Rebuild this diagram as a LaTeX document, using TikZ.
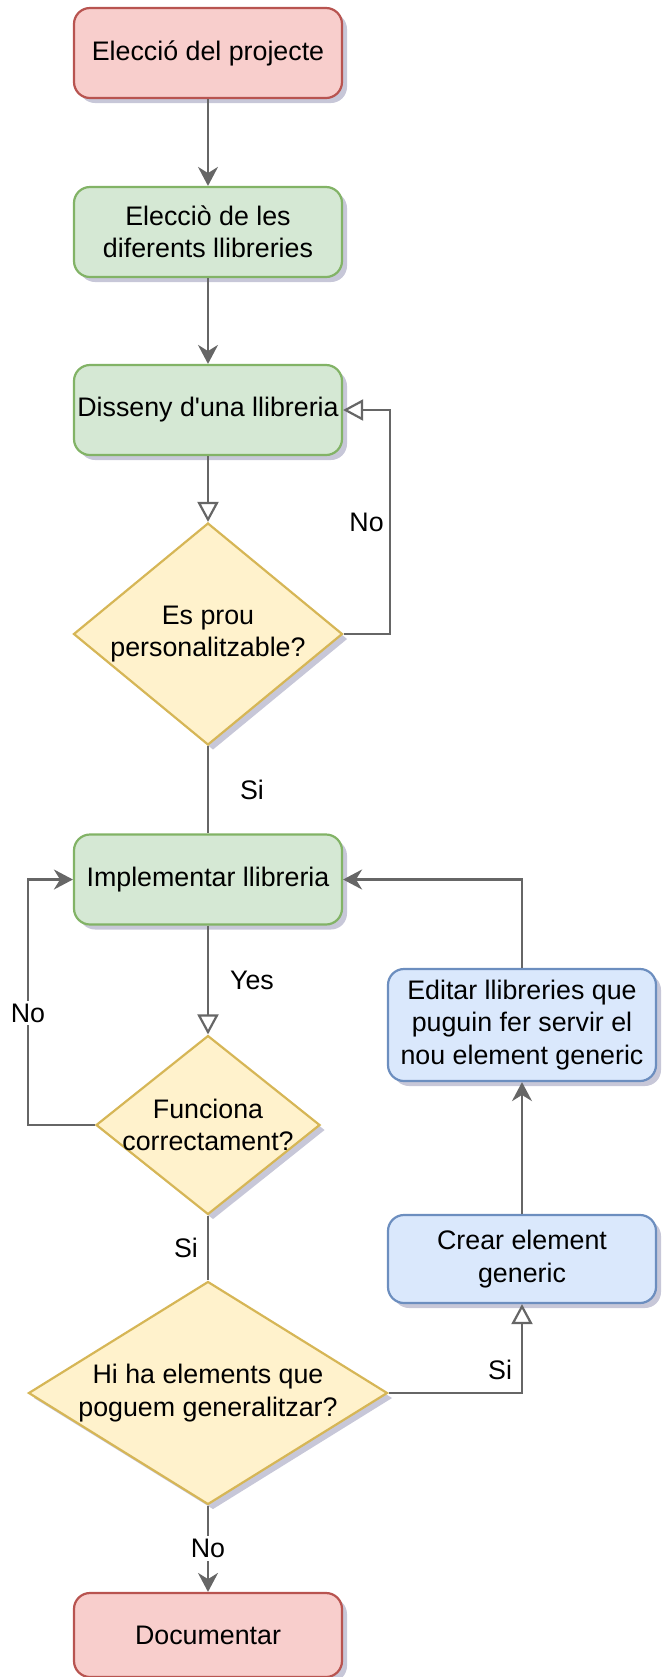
\documentclass[tikz,border=0pt]{standalone}
\usepackage{fontspec}
\setmainfont{Liberation Sans}[Ligatures=TeXOff]
\usetikzlibrary{shapes.geometric,arrows.meta,shadows}
\definecolor{redfill}{HTML}{F8CECC}
\definecolor{redline}{HTML}{B85450}
\definecolor{greenfill}{HTML}{D5E8D4}
\definecolor{greenline}{HTML}{82B366}
\definecolor{yellowfill}{HTML}{FFF2CC}
\definecolor{yellowline}{HTML}{D6B656}
\definecolor{bluefill}{HTML}{DAE8FC}
\definecolor{blueline}{HTML}{6C8EBF}
\definecolor{linegray}{HTML}{666666}

\begin{document}
\begin{tikzpicture}[x=0.5pt,y=-0.5pt,
	every node/.style={font=\fontsize{13.4}{16.25}\selectfont, align=center},
	shade/.style={drop shadow={shadow xshift=2.5pt, shadow yshift=-2.5pt, opacity=0.22, fill=black!70!blue}},
	box/.style={shape=rectangle, rounded corners=8pt, line width=1.1pt, minimum width=134pt, minimum height=45pt, inner sep=0pt, shade},
	redbox/.style={box, draw=redline, fill=redfill},
	greenbox/.style={box, draw=greenline, fill=greenfill},
	bluebox/.style={box, draw=blueline, fill=bluefill},
	dec/.style={shape=diamond, draw=yellowline, fill=yellowfill, line width=1.1pt, inner sep=0pt, shade},
	ln/.style={draw=linegray, line width=1.1pt},
	arr/.style={ln, -{Stealth[length=9.5pt, width=10pt]}},
	oarr/.style={ln, -{Triangle[open, fill=white, length=10pt, width=10.5pt]}},
	lblw/.style={fill=white, inner sep=1.5pt}]

	\useasboundingbox (0,0) rectangle (667,1677);

	\node[redbox] (B1) at (208,53) {Elecció del projecte};
	\node[greenbox] (B2) at (208,232) {Elecciò de les\\diferents llibreries};
	\node[greenbox] (B3) at (208,410) {Disseny d'una llibreria};
	\node[dec, minimum width=134.5pt, minimum height=111pt, label={center:Es prou\\personalitzable?}] (D1) at (208,634) {};
	\node[greenbox] (B4) at (208,879.5) {Implementar llibreria};
	\node[dec, minimum width=112pt, minimum height=89.5pt, label={center:Funciona\\correctament?}] (D2) at (208,1125) {};
	\node[dec, minimum width=179.5pt, minimum height=111.5pt, label={center:Hi ha elements que\\poguem generalitzar?}] (D3) at (208,1393) {};
	\node[redbox, minimum height=42pt] (B7) at (208,1635) {Documentar};

	\node[bluebox, minimum height=56pt] (B5) at (522,1025) {Editar llibreries que\\puguin fer servir el\\nou element generic};
	\node[bluebox, minimum height=44pt] (B6) at (522,1259) {Crear element\\generic};

	\draw[arr] (B1) -- (B2);
	\draw[arr] (B2) -- (B3);
	\draw[oarr] (B3) -- (D1);
	\draw[ln] (D1) -- node[xshift=22pt] {Si} (B4);
	\draw[oarr] (B4) -- node[xshift=22pt] {Yes} (D2);
	\draw[ln] (D2) -- node[xshift=-11pt] {Si} (D3);
	\draw[arr] (D3) -- node[lblw] {No} (B7);

	\draw[oarr] (D1.east) -- ++(46,0) |- node[pos=0.25, xshift=-11.5pt] {No} (B3.east);
	\draw[arr] (D2.west) -- ++(-67,0) |- node[pos=0.228, lblw] {No} (B4.west);
	\draw[arr] (B5.north) |- (B4.east);
	\draw[arr] (B6) -- (B5);
	\draw[oarr] (D3.east) -| node[pos=0.418, yshift=11.5pt] {Si} (B6.south);

\end{tikzpicture}
\end{document}
